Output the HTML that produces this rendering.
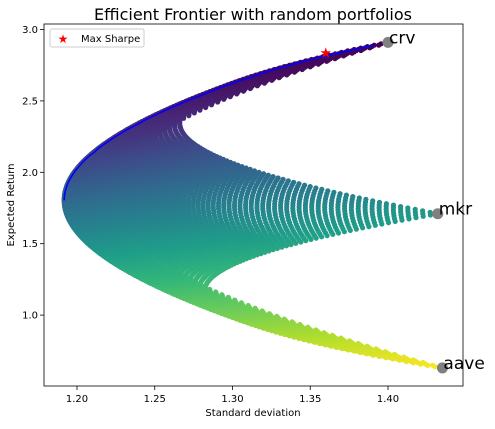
<!DOCTYPE html>
<html><head><meta charset="utf-8"><style>
body{margin:0;background:#fff;font-family:"Liberation Sans","DejaVu Sans",sans-serif}
svg text{font-family:"DejaVu Sans","Liberation Sans",sans-serif}
</style></head><body>
<svg id="chart" width="495" height="424" viewBox="0 0 495 424" xmlns="http://www.w3.org/2000/svg">
<rect width="495" height="424" fill="#fff"/>
<text x="253" y="20" font-size="16" text-anchor="middle">Efficient Frontier with random portfolios</text>
<g id="plot"></g>
<rect x="44" y="24" width="419" height="362" fill="none" stroke="#000" stroke-width="0.8"/>
<g id="axes"></g>
<text x="253" y="416" font-size="10" text-anchor="middle">Standard deviation</text>
<text transform="translate(14,205) rotate(-90)" font-size="10" text-anchor="middle">Expected Return</text>
<g>
<rect x="50" y="29" width="94" height="18" fill="#fff" stroke="#ccc" rx="2"/>
<text x="63" y="43" font-size="12" fill="red" text-anchor="middle">★</text>
<text x="81" y="42" font-size="10">Max Sharpe</text>
</g>
</svg>
<script>
const assetNames=["crv","mkr","aave"];
const assetStd=[1.40,1.432,1.435];
const assetRet=[2.91,1.71,0.63];
const corr=[[1,0.6,0.48],[0.6,1,0.6],[0.48,0.6,1]];
const xTicks=[1.20,1.25,1.30,1.35,1.40];
const yTicks=[1.0,1.5,2.0,2.5,3.0];
const maxSharpe=[1.36,2.84];
const gridSteps=120;

const NS="http://www.w3.org/2000/svg";
const X=v=>77+(v-1.20)*1555;
const Y=v=>29.5+(3.0-v)*142.8;
function mk(t,a,p){const e=document.createElementNS(NS,t);for(const k in a)e.setAttribute(k,a[k]);p.appendChild(e);return e;}
const vir=[[68,1,84],[72,40,120],[62,74,137],[49,104,142],[38,130,142],[31,158,137],[53,183,121],[109,205,89],[180,222,44],[253,231,37]];
function viridis(t){t=Math.max(0,Math.min(1,t))*9;const i=Math.min(8,Math.floor(t)),f=t-i;const a=vir[i],b=vir[i+1];return `rgb(${a.map((c,k)=>Math.round(c+(b[k]-c)*f)).join(',')})`;}
const plot=document.getElementById('plot');
const axes=document.getElementById('axes');
const pts=[];
for(let i=0;i<=gridSteps;i++)for(let j=0;j<=gridSteps-i;j++){
 const w=[i/gridSteps,j/gridSteps,(gridSteps-i-j)/gridSteps];
 let r=0,v=0;
 for(let a=0;a<3;a++){r+=w[a]*assetRet[a];for(let b=0;b<3;b++)v+=w[a]*w[b]*assetStd[a]*assetStd[b]*corr[a][b];}
 pts.push([Math.sqrt(v),r]);
}
const sh=pts.map(p=>p[1]/p[0]);
const sMax=Math.max(...sh),sMin=Math.min(...sh);
pts.forEach((p,k)=>{
 const c=mk('circle',{cx:X(p[0]).toFixed(1),cy:Y(p[1]).toFixed(1),r:2.6,fill:viridis((sMax-sh[k])/(sMax-sMin))},plot);
 
 
});
let mv=pts.reduce((a,b)=>b[0]<a[0]?b:a);
const bins={};
pts.forEach(p=>{if(p[1]>=mv[1]){const k=Math.round(p[1]*40);if(!bins[k]||p[0]<bins[k][0])bins[k]=p;}});
const fr=Object.keys(bins).map(Number).sort((a,b)=>a-b).map(k=>bins[k]);
const line=mk('polyline',{points:fr.map(p=>X(p[0]).toFixed(1)+','+Y(p[1]).toFixed(1)).join(' '),fill:'none',stroke:'#0000ff','stroke-width':1.6},plot);


const star=mk('text',{x:X(maxSharpe[0]),y:Y(maxSharpe[1])+5,'font-size':14,fill:'red','text-anchor':'middle'},plot);
star.textContent='★';


assetNames.forEach((n,i)=>{
 const c=mk('circle',{cx:X(assetStd[i]),cy:Y(assetRet[i]),r:5.5,fill:'#808080'},plot);
 
 
 const t=mk('text',{x:X(assetStd[i])+1,y:Y(assetRet[i])+1,'font-size':17},plot);
 t.textContent=n;
 
 
});
xTicks.forEach(v=>{
 mk('line',{x1:X(v),x2:X(v),y1:386,y2:390,stroke:'#000','stroke-width':0.8},axes);
 const t=mk('text',{x:X(v),y:402,'font-size':10,'text-anchor':'middle'},axes);
 t.textContent=v.toFixed(2);
 
 
});
yTicks.forEach(v=>{
 mk('line',{x1:40,x2:44,y1:Y(v),y2:Y(v),stroke:'#000','stroke-width':0.8},axes);
 const t=mk('text',{x:38,y:Y(v)+3.5,'font-size':10,'text-anchor':'end'},axes);
 t.textContent=v.toFixed(1);
 
 
});
</script>
</body></html>
